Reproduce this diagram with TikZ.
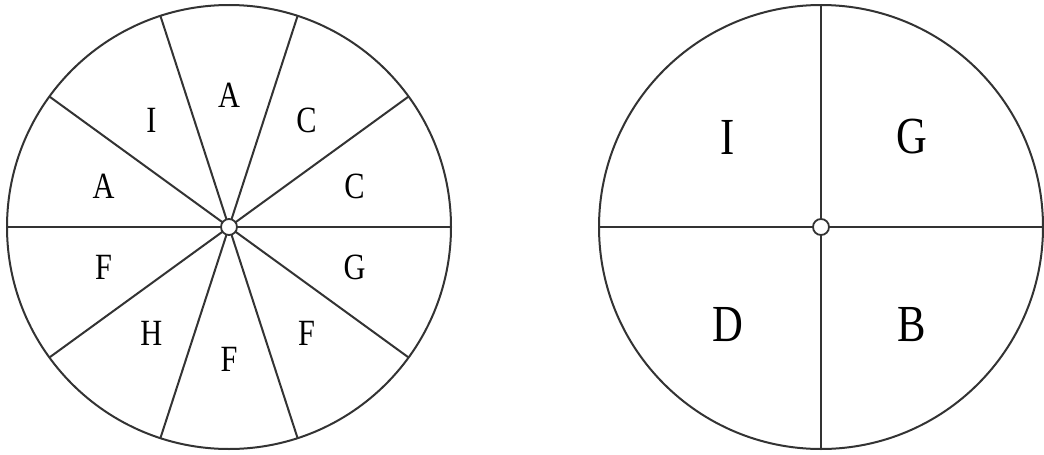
\documentclass[tikz,border=0pt]{standalone}
\usepackage{fontspec}
\usetikzlibrary{calc}
\newfontfamily\lab[FakeStretch=0.82]{Liberation Serif}
\begin{document}
\begin{tikzpicture}[x=1pt,y=-1pt,
  rim/.style={draw=black!80,line width=2pt},
  spoke/.style={draw=black!80,line width=2pt},
  hub/.style={circle,draw=black!80,fill=white,line width=1.8pt,minimum size=16pt,inner sep=0pt},
  smalllab/.style={font=\lab\fontsize{37}{37}\selectfont,inner sep=0pt},
  biglab/.style={font=\lab\fontsize{52}{52}\selectfont,inner sep=0pt}]
\useasboundingbox (0,0) rectangle (1044,455);
% left spinner
\coordinate (L) at (229,227);
\draw[rim] (L) circle[radius=222];
\foreach \a in {0,36,72,108,144}{
  \draw[spoke] ($(L)+({222*cos(\a)},{-222*sin(\a)})$) -- ($(L)+({-222*cos(\a)},{222*sin(\a)})$);
}
\node[hub] (lh) at (L) {};
\foreach \a/\t in {90/A,54/C,18/C,-18/G,-54/F,-90/F,-126/H,-162/F,162/A,126/I}{
  \node[smalllab] at ($(L)+({132*cos(\a)},{-132*sin(\a)})$) {\t};
}
% right spinner
\coordinate (R) at (821,227);
\draw[rim] (R) circle[radius=222];
\draw[spoke] ($(R)+(-222,0)$) -- ($(R)+(222,0)$);
\draw[spoke] ($(R)+(0,-222)$) -- ($(R)+(0,222)$);
\node[hub] (rh) at (R) {};
\node[biglab] (ri) at (728,137) {I};
\node[biglab] (rg) at (912,137) {G};
\node[biglab] (rd) at (728,325) {D};
\node[biglab] (rb) at (912,325) {B};
\end{tikzpicture}
\end{document}
